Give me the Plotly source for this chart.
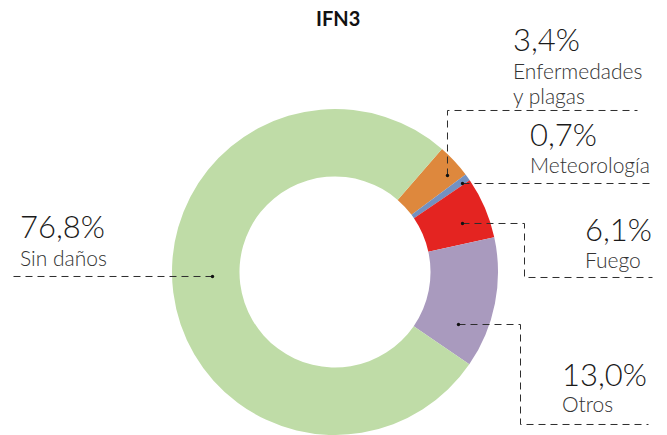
import plotly.graph_objects as go

# --- data -------------------------------------------------------------
categories = ["Enfermedades y plagas", "Meteorología", "Fuego", "Otros", "Sin daños"]
shares = [3.4, 0.7, 6.1, 13.0, 76.8]
category_lines = [["Enfermedades", "y plagas"], ["Meteorología"], ["Fuego"], ["Otros"], ["Sin daños"]]
slice_colors = ["#DE883D", "#7391C1", "#E42421", "#A99ABE", "#BFDCA7"]
title_text = "IFN3"

# --- canvas -----------------------------------------------------------
W, H = 667, 435
FONT = "Lato"
NUM_SIZE = 31
LBL_SIZE = 21


def px(x):
    return x / W


def py(y):
    return 1 - y / H


def baseline_y(yb, size):
    # annotation anchored at the bottom of its text box: shift by descent + pad
    return py(yb + 0.213 * size + 1)


def fmt_pct(v):
    return f"{v:.1f}".replace(".", ",") + "%"


fig = go.Figure(
    go.Pie(
        labels=categories,
        values=shares,
        marker=dict(colors=slice_colors, line=dict(width=0)),
        hole=0.586,
        sort=False,
        direction="clockwise",
        rotation=41,
        textinfo="none",
        hoverinfo="label+percent",
        showlegend=False,
        domain=dict(x=[px(335 - 163), px(335 + 163)], y=[0, py(435 - 326)]),
    )
)

# label layout per category: (left x, number baseline, [line baselines])
label_layout = {
    "Enfermedades y plagas": (511, 52, [80, 105]),
    "Meteorología": (528, 147, [174]),
    "Fuego": (583, 242, [269]),
    "Otros": (560, 387, [413]),
    "Sin daños": (18, 239, [267]),
}

# leader lines drawn as dashed polylines ending at a dot inside the slice
leaders = {
    "Enfermedades y plagas": [(447, 175), (447, 110), (637, 110)],
    "Meteorología": [(462, 183), (652, 183)],
    "Fuego": [(462, 223), (524, 223), (524, 277), (652, 277)],
    "Otros": [(458, 324), (520, 324), (520, 424), (648, 424)],
    "Sin daños": [(212, 276), (12, 276)],
}

annotations = []
shapes = []
for cat, val, lines in zip(categories, shares, category_lines):
    lx, nb, lbs = label_layout[cat]
    annotations.append(dict(
        text=fmt_pct(val), x=px(lx), y=baseline_y(nb, NUM_SIZE),
        xref="paper", yref="paper", xanchor="left", yanchor="bottom",
        showarrow=False, font=dict(family=FONT, size=NUM_SIZE, color="#1a1a1a", weight=300),
    ))
    for line, b in zip(lines, lbs):
        annotations.append(dict(
            text=line, x=px(lx), y=baseline_y(b, LBL_SIZE),
            xref="paper", yref="paper", xanchor="left", yanchor="bottom",
            showarrow=False, font=dict(family=FONT, size=LBL_SIZE, color="#333333", weight=300),
        ))

    pts = leaders[cat]
    path = "M " + " L ".join(f"{px(x + 0.5):.5f},{py(y + 0.5):.5f}" for x, y in pts)
    shapes.append(dict(
        type="path", path=path, xref="paper", yref="paper",
        line=dict(color="#2e2e2e", width=1, dash="7px,5px"),
    ))
    dx, dy = pts[0]
    shapes.append(dict(
        type="circle", xref="paper", yref="paper",
        xsizemode="pixel", ysizemode="pixel",
        xanchor=px(dx + 0.5), yanchor=py(dy + 0.5),
        x0=-1.7, x1=1.7, y0=-1.7, y1=1.7,
        fillcolor="#111111", line=dict(width=0),
    ))

annotations.append(dict(
    text=f"<b>{title_text}</b>", x=px(338), y=baseline_y(27, 20),
    xref="paper", yref="paper", xanchor="center", yanchor="bottom",
    showarrow=False, font=dict(family=FONT, size=20, color="#111111"),
))

fig.update_layout(
    width=W, height=H,
    margin=dict(l=0, r=0, t=0, b=0),
    paper_bgcolor="white", plot_bgcolor="white",
    annotations=annotations,
    shapes=shapes,
)

fig.write_html("out.html")
